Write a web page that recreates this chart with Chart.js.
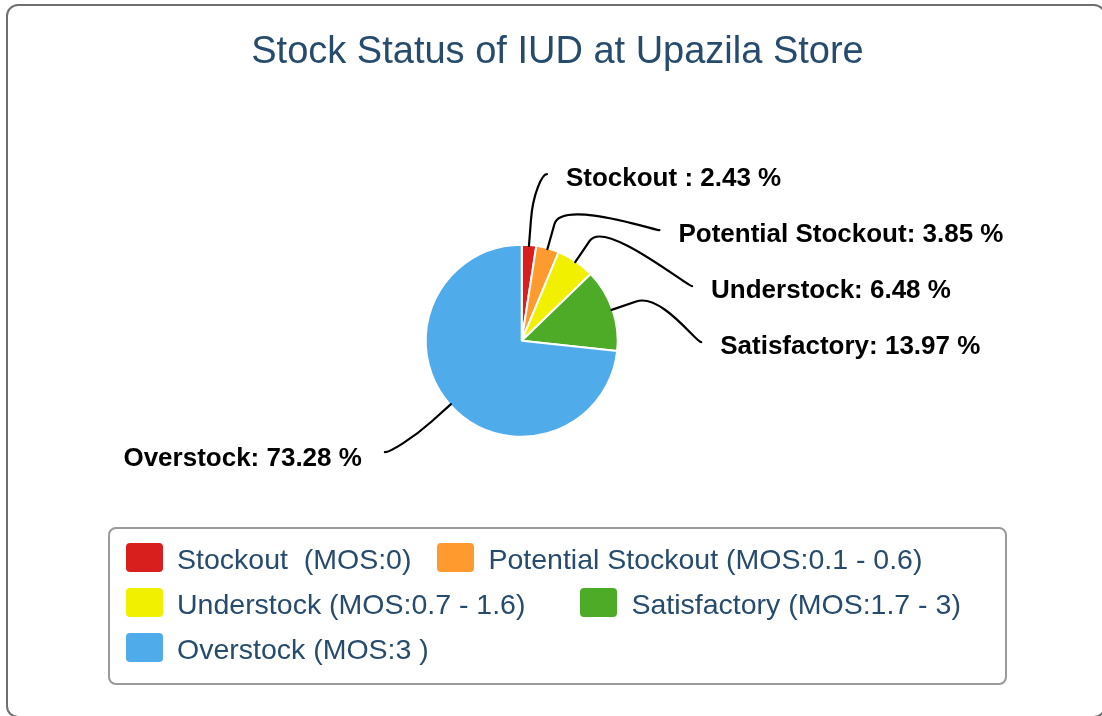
<!DOCTYPE html>
<html lang="en">

<head>
    <meta charset="UTF-8">
    <title>Stock Status of IUD at Upazila Store</title>
    <script src="https://cdn.jsdelivr.net/npm/chart.js"></script>
    <style>
        html, body {
            margin: 0;
            padding: 0;
            width: 1102px;
            height: 716px;
            overflow: hidden;
            background: #ffffff;
            font-family: "Liberation Sans", Arial, sans-serif;
        }

        .frame {
            position: absolute;
            left: 6px;
            top: 4px;
            width: 1100px;
            height: 714px;
            box-sizing: border-box;
            border: 2px solid #707070;
            border-radius: 12px;
        }

        #grafico {
            position: absolute;
            left: 0;
            top: 0;
        }

        .titulo {
            position: absolute;
            left: 0;
            top: 31px;
            width: 1115px;
            text-align: center;
            font-size: 38px;
            line-height: 38px;
            color: #274b6d;
            white-space: nowrap;
        }

        .legenda {
            position: absolute;
            left: 108px;
            top: 527px;
            width: 899px;
            height: 158px;
            box-sizing: border-box;
            border: 2px solid #9a9a9a;
            border-radius: 8px;
            padding: 8px 10px 0 16px;
            display: flex;
            flex-wrap: wrap;
            align-content: flex-start;
        }

        .item {
            display: flex;
            align-items: flex-start;
            height: 45px;
            margin-right: 26px;
        }

        .item.largo {
            margin-right: 55px;
        }

        .simbolo {
            width: 37px;
            height: 29px;
            margin-top: 6px;
            margin-right: 14px;
            border-radius: 4px;
        }

        .texto {
            font-size: 28.5px;
            line-height: 45px;
            color: #274b6d;
            white-space: pre;
        }
    </style>
</head>

<body>
    <div class="frame"></div>
    <canvas id="grafico" width="1102" height="716"></canvas>
    <div class="titulo">Stock Status of IUD at Upazila Store</div>
    <div class="legenda" id="legenda"></div>
</body>

</html>
<script>
    // dados do grafico
    var categorias = ['Stockout', 'Potential Stockout', 'Understock', 'Satisfactory', 'Overstock'];
    var nomesRotulo = ['Stockout ', 'Potential Stockout', 'Understock', 'Satisfactory', 'Overstock'];
    var valores = [2.43, 3.85, 6.48, 13.97, 73.28];
    var cores = ['#d91e1e', '#ff9a2e', '#f0f000', '#4eab27', '#50abea'];
    var textosLegenda = [
        'Stockout  (MOS:0)',
        'Potential Stockout (MOS:0.1 - 0.6)',
        'Understock (MOS:0.7 - 1.6)',
        'Satisfactory (MOS:1.7 - 3)',
        'Overstock (MOS:3 )'
    ];

    // legenda em html
    var legenda = document.getElementById('legenda');
    textosLegenda.forEach(function (txt, i) {
        var item = document.createElement('div');
        item.className = 'item' + (i === 2 ? ' largo' : '');
        var sim = document.createElement('div');
        sim.className = 'simbolo';
        sim.style.background = cores[i];
        var span = document.createElement('span');
        span.className = 'texto';
        span.textContent = txt;
        item.appendChild(sim);
        item.appendChild(span);
        legenda.appendChild(item);
    });

    // rotulos com linhas de conexao (estilo highcharts)
    var rotulosPizza = {
        id: 'rotulosPizza',
        afterDatasetsDraw: function (chart) {
            var meta = chart.getDatasetMeta(0);
            var ctx = chart.ctx;
            var dist = 72;      // distancia do rotulo
            var quebra = 26;    // primeira quebra da linha
            var espaco = 56;    // espaco minimo entre rotulos
            var direita = [], esquerda = [];

            meta.data.forEach(function (arc, i) {
                var ang = (arc.startAngle + arc.endAngle) / 2;
                var r = arc.outerRadius - 1;
                var R = r + dist;
                var p = {
                    i: i, ang: ang, r: r, R: R, cx: arc.x, cy: arc.y,
                    y: arc.y + Math.sin(ang) * R
                };
                if (Math.cos(ang) >= 0) direita.push(p); else esquerda.push(p);
            });

            function distribuir(lista) {
                lista.sort(function (a, b) { return a.y - b.y; });
                for (var k = 1; k < lista.length; k++) {
                    if (lista[k].y < lista[k - 1].y + espaco) lista[k].y = lista[k - 1].y + espaco;
                }
            }
            distribuir(direita);
            distribuir(esquerda);

            ctx.save();
            ctx.font = 'bold 26px "Liberation Sans", Arial, sans-serif';
            ctx.fillStyle = '#000000';
            ctx.strokeStyle = '#000000';
            ctx.lineWidth = 2.2;
            ctx.lineCap = 'round';

            function desenhar(p, lado) {
                var dy = p.y - p.cy;
                var lx = p.cx + lado * (Math.sqrt(Math.max(p.R * p.R - dy * dy, 0)) + 12.5);
                var cos = Math.cos(p.ang), sin = Math.sin(p.ang);
                var ex = p.cx + cos * p.r, ey = p.cy + sin * p.r;
                var bx = p.cx + cos * (p.r + quebra), by = p.cy + sin * (p.r + quebra);
                ctx.beginPath();
                ctx.moveTo(ex, ey);
                ctx.lineTo(bx, by);
                ctx.bezierCurveTo(2 * bx - ex, 2 * by - ey, lx - lado * 5, p.y, lx, p.y);
                ctx.stroke();

                var txt = nomesRotulo[p.i] + ': ' + valores[p.i].toFixed(2) + ' %';
                ctx.textBaseline = 'alphabetic';
                if (lado > 0) {
                    ctx.textAlign = 'left';
                    ctx.fillText(txt, lx + 19, p.y + 12);
                } else {
                    ctx.textAlign = 'right';
                    ctx.fillText(txt, lx - 23, p.y + 14);
                }
            }
            direita.forEach(function (p) { desenhar(p, 1); });
            esquerda.forEach(function (p) { desenhar(p, -1); });
            ctx.restore();
        }
    };

    var ctx = document.getElementById('grafico');
    new Chart(ctx, {
        type: 'pie',
        data: {
            labels: categorias,
            datasets: [{
                data: valores,
                backgroundColor: cores,
                borderColor: '#ffffff',
                borderWidth: 2
            }]
        },
        options: {
            responsive: false,
            animation: false,
            radius: 96,
            layout: {
                padding: { left: 421.7, right: 480.3, top: 240.7, bottom: 275.3 }
            },
            plugins: {
                legend: { display: false },
                tooltip: { enabled: false },
                title: { display: false }
            }
        },
        plugins: [rotulosPizza]
    });
</script>
